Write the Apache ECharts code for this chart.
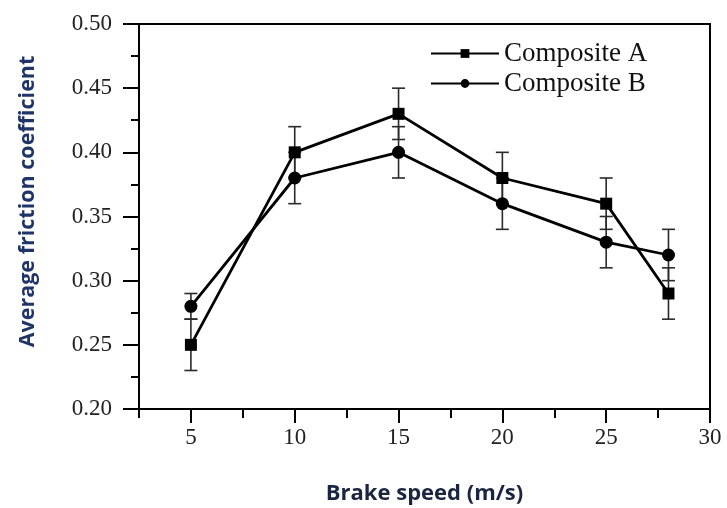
<!DOCTYPE html>
<html><head><meta charset="utf-8">
<script src="https://cdn.jsdelivr.net/npm/echarts@6/dist/echarts.min.js"></script>
<style>html,body{margin:0;padding:0;background:#fff}#c{width:727px;height:508px}</style>
</head><body><div id="c"></div>
<script>
const speeds = [5, 10, 15, 20, 25, 28];
const compositeA = [0.25, 0.40, 0.43, 0.38, 0.36, 0.29];
const compositeAErr = [0.02, 0.02, 0.02, 0.02, 0.02, 0.02];
const compositeB = [0.28, 0.38, 0.40, 0.36, 0.33, 0.32];
const compositeBErr = [0.01, 0.02, 0.02, 0.02, 0.02, 0.02];
const xMajorTicks = [5, 10, 15, 20, 25, 30];
const xMinorTicks = [2.5, 7.5, 12.5, 17.5, 22.5, 27.5];

const serif = '"Liberation Serif", "Times New Roman", serif';
const titleFont = '"Open Sans", "Noto Sans", sans-serif';

function errData(vals, errs) {
  return speeds.map((s, i) => [s, vals[i] - errs[i], vals[i] + errs[i]]);
}
function errRender(params, api) {
  const x = api.value(0);
  const lo = api.coord([x, api.value(1)]);
  const hi = api.coord([x, api.value(2)]);
  const w = 6.5;
  const st = {stroke: '#2a2a2a', lineWidth: 1.6};
  return {type: 'group', children: [
    {type: 'line', shape: {x1: lo[0], y1: lo[1], x2: hi[0], y2: hi[1]}, style: st},
    {type: 'line', shape: {x1: lo[0]-w, y1: lo[1], x2: lo[0]+w, y2: lo[1]}, style: st},
    {type: 'line', shape: {x1: hi[0]-w, y1: hi[1], x2: hi[0]+w, y2: hi[1]}, style: st}
  ]};
}

const chart = echarts.init(document.getElementById('c'));
chart.setOption({
  animation: false,
  backgroundColor: '#fff',
  grid: {left: 139, right: 17, top: 24, bottom: 99, show: true, borderColor: '#000', borderWidth: 2,
         backgroundColor: 'transparent', containLabel: false, outerBoundsMode: 'none'},
  legend: {
    left: 425, top: 35, orient: 'vertical', itemGap: 3,
    itemWidth: 68, itemHeight: 11,
    data: ['Composite A', 'Composite B'],
    textStyle: {fontFamily: serif, fontSize: 27, color: '#111'}
  },
  xAxis: [{
    type: 'value', min: 2.5, max: 30, interval: 2.5,
    name: 'Brake speed (m/s)', nameLocation: 'middle', nameGap: 74,
    nameTextStyle: {fontFamily: titleFont, fontWeight: 'bold', fontSize: 22, color: '#1c2540'},
    axisLine: {show: true, onZero: false, lineStyle: {color: '#000', width: 2}},
    axisTick: {show: true, customValues: xMajorTicks, length: 14, lineStyle: {color: '#000', width: 2}},
    axisLabel: {customValues: xMajorTicks, fontFamily: serif, fontSize: 23, color: '#222', margin: 17},
    splitLine: {show: false}
  }, {
    type: 'value', min: 2.5, max: 30, position: 'bottom',
    axisLine: {show: false},
    axisTick: {show: true, customValues: xMinorTicks, length: 9, lineStyle: {color: '#000', width: 2}},
    axisLabel: {show: false},
    splitLine: {show: false}
  }],
  yAxis: {
    type: 'value', min: 0.2, max: 0.5, interval: 0.05,
    name: 'Average friction coefficient', nameLocation: 'middle', nameGap: 100,
    nameTextStyle: {fontFamily: titleFont, fontWeight: 'bold', fontSize: 21.5, color: '#1f3468', padding: [0, 0, 0, 30]},
    axisLine: {show: true, lineStyle: {color: '#000', width: 2}},
    axisTick: {show: true, length: 16, lineStyle: {color: '#000', width: 2}},
    minorTick: {show: true, splitNumber: 2, length: 8, lineStyle: {color: '#000', width: 2}},
    axisLabel: {formatter: v => v.toFixed(2), fontFamily: serif, fontSize: 23, color: '#222', margin: 27},
    splitLine: {show: false}
  },
  series: [
    {type: 'custom', renderItem: errRender, data: errData(compositeA, compositeAErr), z: 1, silent: true},
    {type: 'custom', renderItem: errRender, data: errData(compositeB, compositeBErr), z: 1, silent: true},
    {name: 'Composite A', type: 'line', data: speeds.map((s, i) => [s, compositeA[i]]),
     symbol: 'rect', symbolSize: 12, z: 3,
     lineStyle: {color: '#000', width: 2.8}, itemStyle: {color: '#000'}},
    {name: 'Composite B', type: 'line', data: speeds.map((s, i) => [s, compositeB[i]]),
     symbol: 'circle', symbolSize: 13, z: 3,
     lineStyle: {color: '#000', width: 2.8}, itemStyle: {color: '#000'}}
  ]
});
</script></body></html>
